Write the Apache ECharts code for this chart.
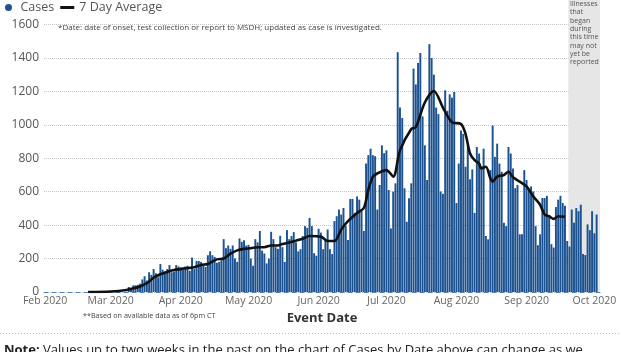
<!DOCTYPE html>
<html>
<head>
<meta charset="utf-8">
<script src="https://cdn.jsdelivr.net/npm/echarts@6/dist/echarts.min.js"></script>
<style>
html, body { margin: 0; padding: 0; background: #fff; }
#main { width: 621px; height: 352px; }
</style>
</head>
<body>
<div id="main"></div>
<script>
// axis runs one category per day
var axisStart = '2020-02-01';
var axisDays = 246;

// daily cases by event date, first bar on caseStart
var caseStart = '2020-03-09';
var cases = [
    30, 20, 40, 40, 43, 50, 75, 94, 69, 118,
    102, 137, 112, 88, 167, 133, 122, 137, 161, 118,
    122, 161, 153, 147, 147, 153, 157, 127, 206, 137,
    186, 186, 180, 167, 150, 220, 243, 220, 210, 175,
    180, 190, 316, 262, 278, 258, 278, 200, 180, 320,
    300, 310, 278, 282, 200, 157, 316, 297, 365, 248,
    230, 171, 200, 360, 316, 268, 258, 336, 268, 180,
    370, 316, 335, 358, 296, 243, 256, 335, 394, 384,
    443, 394, 232, 217, 378, 355, 256, 315, 374, 256,
    227, 424, 453, 493, 463, 502, 394, 311, 556, 556,
    473, 571, 552, 483, 365, 768, 818, 857, 818, 812,
    493, 640, 877, 830, 847, 610, 380, 600, 650, 1434,
    1103, 1040, 620, 420, 560, 650, 1336, 1241, 1370, 1429,
    1050, 877, 670, 1482, 1399, 1300, 1103, 1064, 601, 587,
    1206, 1084, 1182, 1162, 1196, 532, 768, 965, 946, 749,
    877, 674, 733, 473, 867, 828, 749, 857, 335, 315,
    729, 995, 808, 887, 768, 719, 414, 394, 867, 828,
    739, 621, 640, 345, 345, 729, 670, 611, 631, 601,
    394, 280, 345, 562, 562, 575, 453, 286, 266, 508,
    552, 575, 532, 516, 305, 272, 493, 414, 502, 483,
    522, 227, 221, 404, 370, 483, 351, 463
];

// 7 day average
var avgDates = [
    '2020-02-20', '2020-03-01', '2020-03-08', '2020-03-11', '2020-03-14', '2020-03-17',
    '2020-03-20', '2020-03-23', '2020-03-26', '2020-03-29', '2020-04-01', '2020-04-04',
    '2020-04-07', '2020-04-10', '2020-04-13', '2020-04-17', '2020-04-20', '2020-04-23',
    '2020-04-26', '2020-04-29', '2020-05-02', '2020-05-05', '2020-05-08', '2020-05-11',
    '2020-05-14', '2020-05-16', '2020-05-19', '2020-05-22', '2020-05-25', '2020-05-28',
    '2020-06-02', '2020-06-05', '2020-06-08', '2020-06-11', '2020-06-14', '2020-06-18',
    '2020-06-21', '2020-06-23', '2020-06-25', '2020-06-27', '2020-07-01', '2020-07-04',
    '2020-07-07', '2020-07-12', '2020-07-14', '2020-07-18', '2020-07-22', '2020-07-26',
    '2020-07-30', '2020-08-03', '2020-08-05', '2020-08-07', '2020-08-09', '2020-08-11',
    '2020-08-12', '2020-08-14', '2020-08-16', '2020-08-17', '2020-08-19', '2020-08-22',
    '2020-08-24', '2020-08-26', '2020-08-29', '2020-09-01', '2020-09-04', '2020-09-07',
    '2020-09-09', '2020-09-11', '2020-09-13', '2020-09-15', '2020-09-18'
];
var avgValues = [
    0, 3, 12, 22, 33, 53,
    85, 106, 120, 132, 137, 143,
    148, 162, 168, 195, 200, 229,
    249, 258, 262, 268, 268, 278,
    278, 287, 296, 307, 318, 335,
    331, 305, 305, 374, 424, 473,
    502, 611, 690, 709, 729, 690,
    847, 975, 985, 1133, 1202, 1103,
    1015, 1005, 946, 828, 788, 768,
    739, 749, 680, 660, 690, 700,
    719, 686, 660, 631, 571, 522,
    463, 453, 437, 453, 449
];

// shaded "may not yet be reported" window (last two weeks)
var lagStart = '2020-09-20';

var monthNames = ['Jan', 'Feb', 'Mar', 'Apr', 'May', 'Jun', 'Jul', 'Aug', 'Sep', 'Oct', 'Nov', 'Dec'];

function addDays(s, n) {
    var d = new Date(s + 'T00:00:00Z');
    d.setUTCDate(d.getUTCDate() + n);
    return d.toISOString().slice(0, 10);
}

var days = [];
for (var i = 0; i < axisDays; i++) {
    days.push(addDays(axisStart, i));
}
var caseOffset = days.indexOf(caseStart);
var caseData = days.map(function (d, i) {
    var k = i - caseOffset;
    return (k >= 0 && k < cases.length) ? cases[k] : null;
});
var avgData = avgDates.map(function (d, i) {
    return [d, avgValues[i]];
});
var lagIndex = days.indexOf(lagStart);

var font = "'Open Sans', 'Liberation Sans', sans-serif";
var myChart = echarts.init(document.getElementById('main'));

var option = {
    animation: false,
    textStyle: { fontFamily: font },
    grid: { left: 44, right: 21, top: 0, bottom: 60 },
    legend: {
        left: 0,
        top: -4,
        itemWidth: 14,
        itemHeight: 7,
        itemGap: 6,
        textStyle: { fontSize: 12.5, color: '#555', fontFamily: font },
        data: [
            { name: 'Cases', icon: 'circle' },
            { name: '7 Day Average', icon: 'path://M0,0H14V3H0Z' }
        ]
    },
    xAxis: [
        {
            type: 'category',
            data: days,
            boundaryGap: true,
            axisTick: { show: false },
            axisLine: { show: true, lineStyle: { color: '#4a7fc0', type: [4, 4], width: 1 } },
            axisLabel: {
                interval: function (idx, val) { return val.slice(8) === '01'; },
                formatter: function (val) {
                    return monthNames[+val.slice(5, 7) - 1] + ' ' + val.slice(0, 4);
                },
                fontSize: 10.5,
                color: '#666',
                margin: 4
            },
            name: 'Event Date',
            nameLocation: 'middle',
            nameGap: 16,
            nameTextStyle: { fontSize: 13, fontWeight: 'bold', color: '#333', fontFamily: font }
        },
        {
            // hidden day-index axis, used only to place the shaded band on day edges
            type: 'value',
            show: false,
            min: -0.5,
            max: axisDays - 0.5
        }
    ],
    yAxis: {
        type: 'value',
        min: 0,
        max: 1746,
        interval: 200,
        axisLine: { show: false },
        axisTick: { show: false },
        axisLabel: {
            showMaxLabel: false,
            fontSize: 12,
            color: '#555',
            margin: 5,
            formatter: function (v) { return String(v); }
        },
        splitLine: { showMaxLine: false, lineStyle: { type: 'dotted', color: '#c4c4c4' } }
    },
    series: [
        {
            name: 'lag',
            type: 'line',
            xAxisIndex: 1,
            data: [[lagIndex, 0]],
            symbol: 'none',
            lineStyle: { opacity: 0 },
            silent: true,
            z: 1,
            markArea: {
                silent: true,
                itemStyle: { color: '#e6e6e6' },
                data: [[{ xAxis: lagIndex - 0.5 }, { xAxis: axisDays - 0.5 }]]
            }
        },
        {
            name: 'Cases',
            type: 'bar',
            data: caseData,
            barCategoryGap: '14%',
            itemStyle: { color: '#1d5290' },
            z: 2
        },
        {
            name: '7 Day Average',
            type: 'line',
            data: avgData,
            symbol: 'none',
            smooth: 0.3,
            lineStyle: { color: '#111', width: 2.6 },
            itemStyle: { color: '#111' },
            z: 3
        }
    ],
    graphic: [
        {
            type: 'text', x: 58, y: 28, z: 10,
            style: {
                text: '*Date: date of onset, test collection or report to MSDH; updated as case is investigated.',
                fontSize: 8, fontFamily: font, fill: '#444', verticalAlign: 'middle'
            }
        },
        {
            type: 'text', x: 570, y: 0, z: 10,
            style: {
                text: 'Illnesses\nthat\nbegan\nduring\nthis time\nmay not\nyet be\nreported',
                fontSize: 7, lineHeight: 8.3, fontFamily: font, fill: '#555', verticalAlign: 'top'
            }
        },
        {
            type: 'text', x: 83, y: 316, z: 10,
            style: {
                text: '**Based on available data as of 6pm CT',
                fontSize: 7.2, fontFamily: font, fill: '#444', verticalAlign: 'middle'
            }
        },
        {
            type: 'line', z: 10,
            shape: { x1: 0, y1: 333.5, x2: 621, y2: 333.5 },
            style: { stroke: '#bbb', lineWidth: 1, lineDash: [1, 2] }
        },
        {
            type: 'text', x: 4, y: 350, z: 10,
            style: {
                text: '{b|Note:} Values up to two weeks in the past on the chart of Cases by Date above can change as we',
                fontSize: 13, fontFamily: font, fill: '#222', verticalAlign: 'middle',
                rich: { b: { fontWeight: 'bold', fontSize: 13, fontFamily: font, fill: '#222' } }
            }
        }
    ]
};

myChart.setOption(option);
</script>
</body>
</html>
